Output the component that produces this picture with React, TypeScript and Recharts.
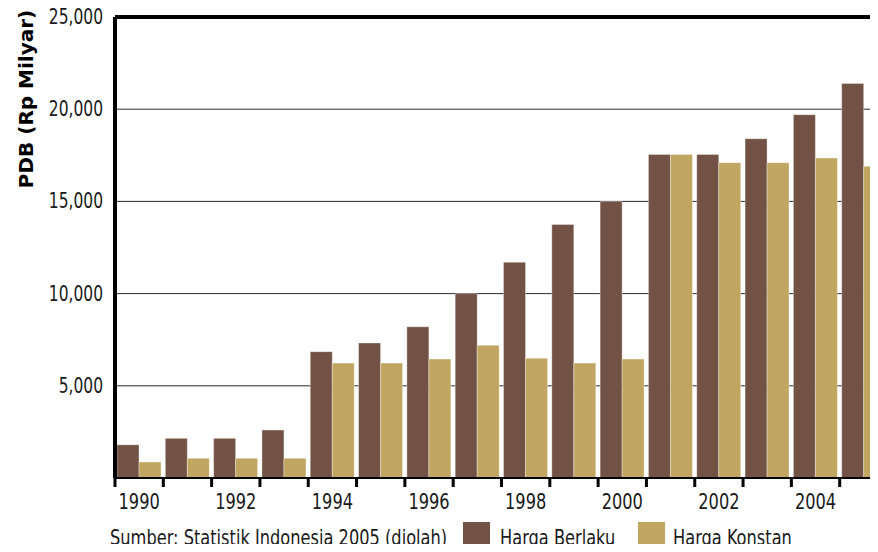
import { BarChart, Bar, XAxis, YAxis, CartesianGrid, ReferenceLine, Legend } from "recharts"

const years = [1990, 1991, 1992, 1993, 1994, 1995, 1996, 1997, 1998, 1999, 2000, 2001, 2002, 2003, 2004, 2005]
const hargaBerlaku = [1800, 2150, 2150, 2600, 6850, 7320, 8200, 10000, 11700, 13750, 15000, 17550, 17550, 18400, 19700, 21400]
const hargaKonstan = [870, 1070, 1070, 1070, 6230, 6230, 6450, 7200, 6500, 6230, 6450, 17550, 17100, 17100, 17350, 16900]
const yTicks = [5000, 10000, 15000, 20000, 25000]

const data = years.map((year, i) => ({ year, berlaku: hargaBerlaku[i], konstan: hargaKonstan[i] }))

const BROWN = "#725244"
const TAN = "#c1a662"
const FONT = "'DejaVu Sans Condensed', 'DejaVu Sans', sans-serif"
const SQUEEZE = 0.82

const W = 900
const H = 552
const M = { top: 17, right: 12, left: 40, bottom: 0 }
const Y_AXIS_W = 75
const BAND = (W - M.left - Y_AXIS_W - M.right) / years.length

// narrow text (the original uses a condensed face)
function NarrowText({ x, y, size, anchor = "start", children }: any) {
  return (
    <text
      transform={`translate(${x},${y}) scale(${SQUEEZE},1)`}
      textAnchor={anchor}
      fontFamily={FONT}
      fontSize={size}
      fill="#1a1a1a"
    >
      {children}
    </text>
  )
}

function YearTick(props: any) {
  const { x, y, payload } = props
  const year = Number(payload.value)
  return (
    <g>
      <rect x={x - BAND / 2 - 1.5} y={y - 1} width={3} height={10} fill="#000" />
      {year % 2 === 0 && (
        <NarrowText x={x} y={y + 31} size={22} anchor="middle">
          {year}
        </NarrowText>
      )}
    </g>
  )
}

function ValueTick(props: any) {
  const { x, y, payload } = props
  return (
    <NarrowText x={x} y={y + 7} size={21} anchor="end">
      {Number(payload.value).toLocaleString("en-US")}
    </NarrowText>
  )
}

function LegendBox() {
  return (
    <svg width={878} height={36} style={{ display: "block" }}>
      <NarrowText x={110} y={29} size={22}>
        Sumber: Statistik Indonesia 2005 (diolah)
      </NarrowText>
      <rect x={463} y={6} width={27} height={28} fill={BROWN} />
      <NarrowText x={500} y={29} size={22}>
        Harga Berlaku
      </NarrowText>
      <rect x={638} y={6} width={27} height={28} fill={TAN} />
      <NarrowText x={673} y={29} size={22}>
        Harga Konstan
      </NarrowText>
    </svg>
  )
}

export default function App() {
  return (
    <div style={{ margin: -8, width: 878, height: 552, overflow: "hidden", background: "#fff" }}>
      <BarChart width={W} height={H} data={data} margin={M} barCategoryGap={2} barGap={0}>
        <CartesianGrid vertical={false} stroke="#2a2a2a" strokeWidth={1} />
        <XAxis
          dataKey="year"
          interval={0}
          height={38}
          tickSize={0}
          tickMargin={0}
          tickLine={false}
          axisLine={{ stroke: "#000", strokeWidth: 2 }}
          tick={<YearTick />}
        />
        <YAxis
          width={Y_AXIS_W}
          domain={[0, 25000]}
          ticks={yTicks}
          interval={0}
          tickLine={false}
          tickMargin={6}
          axisLine={{ stroke: "#000", strokeWidth: 4 }}
          tick={<ValueTick />}
          label={{
            content: () => (
              <text
                x={33}
                y={99}
                transform="rotate(-90 33 99)"
                textAnchor="middle"
                fontFamily="'DejaVu Sans', sans-serif"
                fontWeight="bold"
                fontSize={20}
                fill="#000"
              >
                PDB (Rp Milyar)
              </text>
            ),
          }}
        />
        <Bar dataKey="berlaku" name="Harga Berlaku" fill={BROWN} stroke="#fff" strokeOpacity={0.35} strokeWidth={1} isAnimationActive={false} />
        <Bar dataKey="konstan" name="Harga Konstan" fill={TAN} stroke="#fff" strokeOpacity={0.35} strokeWidth={1} isAnimationActive={false} />
        <ReferenceLine y={25000} stroke="#000" strokeWidth={4} />
        <Legend verticalAlign="bottom" height={36} content={<LegendBox />} wrapperStyle={{ left: 0, width: 878 }} />
      </BarChart>
    </div>
  )
}
